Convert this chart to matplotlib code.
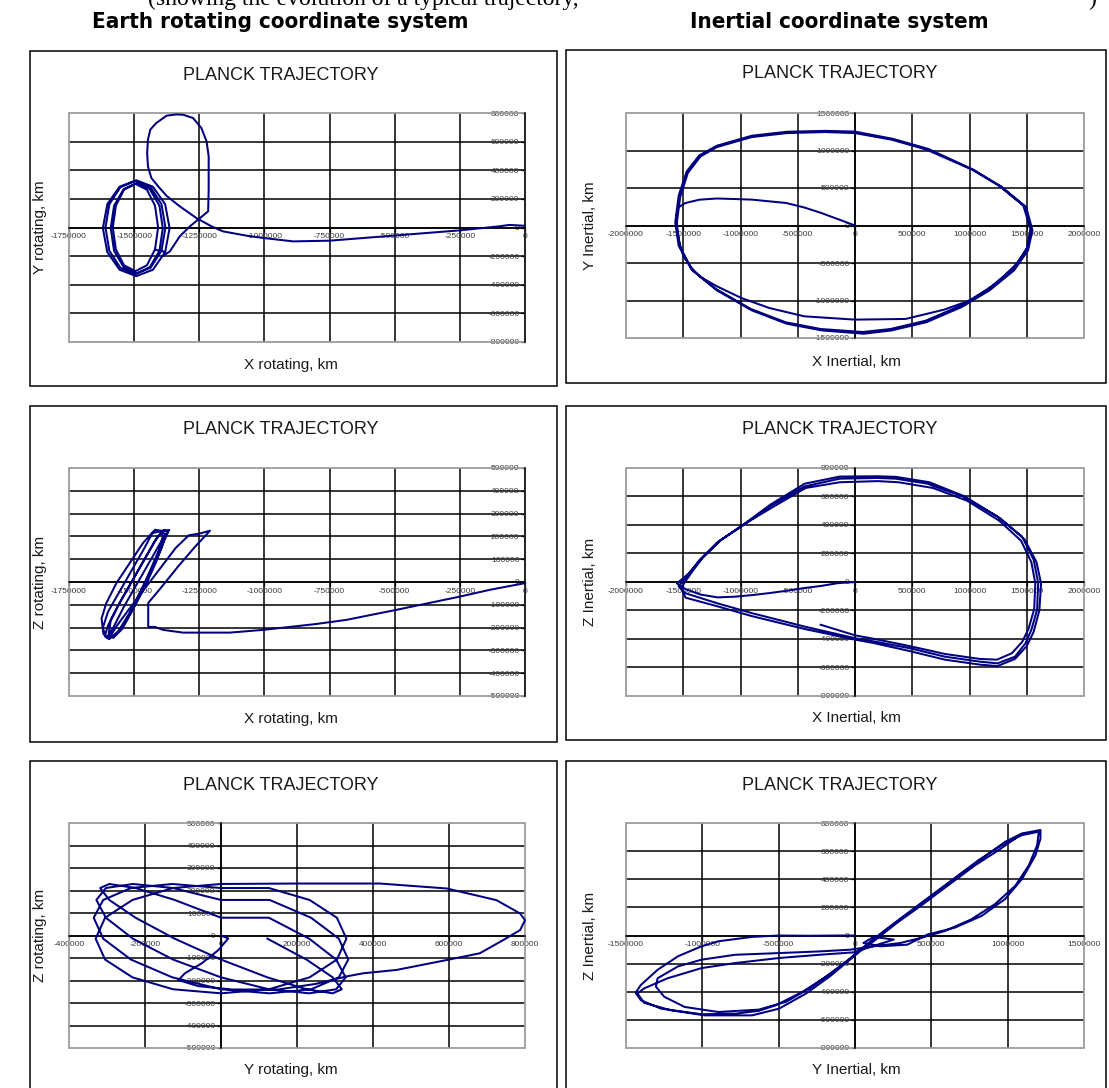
import numpy as np
import matplotlib
matplotlib.use("Agg")
import matplotlib.pyplot as plt
from matplotlib.patches import Rectangle
from matplotlib.ticker import MultipleLocator, FuncFormatter

plt.rcParams["font.family"] = ["Liberation Sans", "DejaVu Sans"]

W, H = 1109, 1088
NAVY = "#000080"

# ---- trajectory samples, thousands of km ----

# rotating frame, X vs Y
rot_xy_x = [
    0, -60, -100, -250, -493, -749, -890, -1005, -1069, -1159,
    -1203, -1261, -1325, -1376, -1408, -1434, -1447, -1450, -1447, -1438,
    -1415, -1376, -1340, -1312, -1274, -1242, -1222, -1214, -1214, -1216,
    -1286, -1325, -1363, -1387,
    -1381, -1428, -1492, -1556, -1603, -1620, -1603, -1556, -1492, -1428, -1381, -1364, -1381,
    -1395, -1437, -1495, -1553, -1595, -1610, -1595, -1553, -1495, -1437, -1395, -1380, -1395,
    -1403, -1440, -1490, -1540, -1577, -1590, -1577, -1540, -1490, -1440, -1403, -1390, -1403,
    -1420, -1451, -1495, -1539, -1570, -1582, -1570, -1539, -1495, -1451, -1420, -1408, -1420,
]
rot_xy_y = [
    12, 18, 8, -20, -55, -92, -97, -73, -57, -27,
    8, 66, 148, 222, 288, 346, 427, 520, 614, 684,
    730, 781, 790, 788, 765, 695, 602, 497, 264, 113,
    8, -62, -167, -196,
    -172, -295, -340, -295, -172, -5, 163, 285, 330, 285, 163, -5, -172,
    -163, -281, -325, -281, -163, 0, 163, 281, 325, 281, 163, 0, -163,
    -163, -278, -320, -278, -163, -5, 153, 268, 310, 268, 153, -5, -163,
    -153, -264, -305, -264, -153, 0, 153, 264, 305, 264, 153, 0, -153,
]

# inertial frame, X vs Y
inert_xy_x = [
    0, -137, -300, -443, -600, -748, -900, -1054, -1206, -1359, -1480, -1545, -1560, -1560, -1540, -1496, -1430,
    -1359, -1206, -992, -748, -443, 0, 442, 778, 1023, 1236, 1419, 1511, 1541, 1480, 1267, 1023, 626, 320, 0,
    -260, -596, -901, -1206, -1350, -1460, -1527, -1557, -1527, -1420, -1206, -901, -596, -290, 76, 320, 626, 931,
    1175, 1389, 1511, 1550, 1495, 1280, 1035, 640, 330, 0,
    -260, -596, -901, -1206, -1360, -1470, -1540, -1570, -1540, -1430, -1216, -911, -606, -300, 66, 310, 616, 921,
    1165, 1379, 1500, 1532, 1470, 1260,
]
inert_xy_y = [
    0, 78, 170, 240, 300, 322, 345, 353, 360, 344, 300, 240, 120, 0, -200, -420, -560,
    -678, -811, -967, -1100, -1211, -1255, -1246, -1122, -989, -767, -500, -278, -56, 256, 522, 744, 1011, 1144, 1232,
    1246, 1232, 1179, 1046, 920, 700, 379, 23, -288, -599, -865, -1132, -1310, -1399, -1443, -1399, -1288, -1088,
    -865, -599, -332, -66, 246, 517, 744, 1021, 1156, 1252,
    1262, 1250, 1197, 1064, 935, 720, 399, 40, -270, -580, -845, -1112, -1290, -1380, -1420, -1380, -1270, -1070,
    -845, -580, -312, -46, 266, 530,
]

# rotating frame, X vs Z
rot_xz_x = [
    0, -134, -250, -493, -685, -800, -1005, -1133, -1312, -1389,
    -1420, -1446, -1446, -1394, -1332, -1266, -1225, -1209, -1250, -1290,
    -1340, -1400, -1460, -1520, -1565, -1590, -1605,
    -1580, -1540, -1490, -1440, -1400, -1375, -1365, -1390, -1420, -1465, -1515, -1565, -1600, -1612, -1595,
    -1560, -1520, -1475, -1430, -1395, -1380, -1395, -1420, -1466, -1517, -1568, -1607, -1625, -1618, -1600,
    -1570, -1530, -1490, -1450, -1415, -1385, -1370, -1385, -1410, -1450, -1500, -1550, -1590, -1598, -1580,
    -1545, -1505, -1470, -1435, -1405, -1390, -1400, -1430, -1460, -1505, -1555, -1600, -1620, -1610,
]
rot_xz_z = [
    -5, -34, -64, -122, -166, -184, -210, -222, -222, -210,
    -197, -197, -92, -21, 67, 155, 205, 225, 212, 205,
    150, 60, -30, -120, -190, -235, -245,
    -200, -110, -10, 90, 170, 215, 228, 225, 180, 90, -10, -110, -190, -235, -250,
    -215, -140, -40, 60, 150, 205, 225, 229, 171, 83, -5, -93, -160, -228, -248,
    -230, -170, -90, 0, 90, 180, 218, 228, 200, 120, 20, -80, -170, -230, -245,
    -205, -120, -30, 60, 140, 200, 222, 215, 150, 60, -40, -130, -200, -240,
]

# inertial frame, X vs Z
inert_xz_x = [
    0, -150, -300, -440, -600, -750, -900, -1050, -1200, -1350, -1480, -1556,
    -1450, -1357, -1200, -990, -745, -439, -133, 200, 356, 632,
    938, 1244, 1458, 1560, 1600, 1590, 1540, 1489, 1397, 1244,
    1091, 785, 479, 173, 4, -439, -898, -1204, -1480, -1541,
    -1440, -1340, -1180, -980, -735, -439, -133, 200, 356, 650,
    960, 1270, 1480, 1585, 1625, 1610, 1560, 1500, 1397, 1244,
    1091, 785, 479, 173, 4, -439, -898, -1204, -1480, -1520,
    -1420, -1330, -1170, -970, -720, -430, -133, 200, 380, 680,
    980, 1260, 1450, 1540, 1575, 1565, 1515, 1460, 1370, 1240,
    1091, 785, 479, 173, 4, -300,
]
inert_xz_z = [
    0, -8, -28, -42, -62, -78, -92, -103, -108, -88, -50, -10,
    60, 155, 280, 390, 531, 671, 725, 730, 725, 690,
    601, 460, 320, 157, -7, -195, -336, -430, -524, -571,
    -559, -524, -465, -418, -395, -313, -219, -149, -79, -30,
    70, 165, 290, 400, 545, 690, 740, 742, 738, 700,
    600, 445, 300, 140, -10, -200, -350, -450, -540, -590,
    -580, -545, -485, -430, -405, -330, -240, -170, -110, -40,
    75, 170, 295, 405, 525, 660, 700, 708, 700, 660,
    570, 430, 290, 140, -10, -190, -330, -420, -500, -545,
    -540, -505, -450, -400, -375, -300,
]

# rotating frame, Y vs Z
rot_yz_y = [
    0, 19, -7, -51, -95, -112, -60, 30, 150, 250, 330,
    374, 462, 594, 681, 743, 787, 800, 787, 725, 594, 418, 200,
    0, -126, -233, -305, -330, -305, -233, -126, 0, 126, 233, 305, 330, 305, 233, 126,
    0, -128, -237, -310, -335, -310, -237, -128, 0, 128, 237, 310, 335, 310, 237, 128,
    0, -126, -232, -303, -328, -303, -232, -126, 0, 126, 232, 303, 328, 303, 232, 126,
    0, -122, -225, -294, -318, -294, -225, -122, 0, 122, 225, 294, 318, 294, 225, 122,
]
rot_yz_z = [
    0, -13, -65, -124, -168, -198, -225, -240, -240, -215, -182,
    -168, -153, -109, -79, -20, 24, 68, 98, 157, 209, 231, 231,
    229, 211, 158, 79, -14, -107, -186, -239, -257, -239, -186, -107, -14, 79, 158, 211,
    211, 229, 211, 158, 79, -14, -107, -186, -239, -257, -239, -186, -107, -14, 79, 158,
    158, 211, 229, 211, 158, 79, -14, -107, -186, -239, -257, -239, -186, -107, -14, 79,
    79, 158, 211, 229, 211, 158, 79, -14, -107, -186, -239, -257, -239, -186, -107, -14,
]

# inertial frame, Y vs Z
inert_yz_y = [
    0, -100, -300, -497, -674, -895, -1006, -1160, -1293, -1403,
    -1437, -1403, -1271, -1006, -785, -630, -519, -343, -188, -55,
    33, 122, 210, 343, 475, 652, 829, 983, 1094, 1215,
    1215, 1182, 1094, 983, 829, 652, 475, 343, 166, 55, 122, 254,
    -11, -232, -497, -785, -1006, -1227, -1381, -1425, -1381, -1204,
    -983, -674, -497, -320, -166, -33, 77, 188, 320, 453,
    630, 807, 961, 1094, 1204, 1193, 1138, 1050, 917, 762,
    586, 431, 298, 122, -33, -232, -497, -785, -1006, -1160,
    -1293, -1304, -1249, -1116, -895, -630, -453, -298, -144, -11,
    122, 276, 431, 608, 785, 939, 1050,
]
inert_yz_z = [
    0, 0, -2, 0, -10, -41, -77, -148, -244, -352,
    -407, -460, -520, -560, -556, -536, -496, -400, -292, -184,
    -101, -29, 43, 151, 259, 402, 546, 666, 726, 750,
    690, 570, 402, 259, 139, 55, 7, -65, -77, -53, -10, -29,
    -120, -137, -160, -196, -232, -304, -376, -412, -479, -532,
    -568, -568, -520, -412, -292, -172, -65, 31, 139, 247,
    390, 534, 642, 714, 738, 642, 498, 354, 223, 115,
    31, -17, -53, -77, -101, -113, -125, -137, -172, -220,
    -304, -364, -436, -508, -544, -527, -472, -376, -256, -148,
    -41, 91, 211, 355, 498, 606, 690,
]


def fig_rect(x0, y0, x1, y1):
    # pixel box (top-left origin) -> figure fraction
    return [x0 / W, 1 - y1 / H, (x1 - x0) / W, (y1 - y0) / H]


def fig_xy(x, y):
    return x / W, 1 - y / H


fig = plt.figure(figsize=(W / 100, H / 100), dpi=100)
fig.patch.set_facecolor("white")


def panel(box, plot, xs, ys, xlim, ylim, xstep, ystep,
          xlabel, ylabel, title_x, xlabel_pos, ylabel_x):
    bx0, by0, bx1, by1 = box
    fig.add_artist(Rectangle(fig_xy(bx0, by1), (bx1 - bx0) / W, (by1 - by0) / H,
                             transform=fig.transFigure, fill=False,
                             edgecolor="black", linewidth=1.1))
    ax = fig.add_axes(fig_rect(*plot))
    ax.plot(np.array(xs) * 1000, np.array(ys) * 1000, color=NAVY,
            linewidth=1.45, zorder=4, clip_on=False)
    ax.set_xlim(*xlim)
    ax.set_ylim(*ylim)

    # inner grid only, the frame is grey
    for v in np.arange(xlim[0] + xstep, xlim[1], xstep):
        ax.axvline(v, color="black", linewidth=1.1, zorder=1)
    for v in np.arange(ylim[0] + ystep, ylim[1], ystep):
        ax.axhline(v, color="black", linewidth=1.1, zorder=1)
    ax.add_patch(Rectangle((0, 0), 1, 1, transform=ax.transAxes, fill=False,
                           edgecolor="#9c9c9c", linewidth=1.3, zorder=2,
                           clip_on=False))

    for s in ("top", "right"):
        ax.spines[s].set_visible(False)
    ax.spines["left"].set_position(("data", 0))
    ax.spines["bottom"].set_position(("data", 0))
    for s in ("left", "bottom"):
        ax.spines[s].set_color("black")
        ax.spines[s].set_linewidth(1.1)
        ax.spines[s].set_zorder(3)

    ax.xaxis.set_major_locator(MultipleLocator(xstep))
    ax.yaxis.set_major_locator(MultipleLocator(ystep))
    fmt = FuncFormatter(lambda v, p: "%d" % int(round(v)))
    ax.xaxis.set_major_formatter(fmt)
    ax.yaxis.set_major_formatter(fmt)
    ax.tick_params(direction="out", length=3, width=0.9, pad=1,
                   labelsize=6, labelcolor="#3a3a3a", color="black")

    fig.text(*fig_xy(title_x, by0 + 24), "PLANCK TRAJECTORY",
             ha="center", va="center", fontsize=13, color="#1a1a1a")
    fig.text(*fig_xy(*xlabel_pos), xlabel, ha="center", va="center",
             fontsize=11, color="#1a1a1a")
    fig.text(*fig_xy(ylabel_x, (plot[1] + plot[3]) / 2), ylabel,
             ha="center", va="center", rotation=90, fontsize=11,
             color="#1a1a1a")
    return ax


panel((30, 51, 557, 386), (69, 113, 525, 342), rot_xy_x, rot_xy_y,
      (-1750000, 0), (-800000, 800000), 250000, 200000,
      "X rotating, km", "Y rotating, km", 281, (291, 365), 40)
panel((566, 50, 1106, 383), (626, 113, 1084, 338), inert_xy_x, inert_xy_y,
      (-2000000, 2000000), (-1500000, 1500000), 500000, 500000,
      "X Inertial, km", "Y Inertial, km", 840, (856, 362), 590)
panel((30, 406, 557, 742), (69, 468, 525, 696), rot_xz_x, rot_xz_z,
      (-1750000, 0), (-500000, 500000), 250000, 100000,
      "X rotating, km", "Z rotating, km", 281, (291, 719), 40)
panel((566, 406, 1106, 740), (626, 468, 1084, 696), inert_xz_x, inert_xz_z,
      (-2000000, 2000000), (-800000, 800000), 500000, 200000,
      "X Inertial, km", "Z Inertial, km", 840, (856, 718), 590)
panel((30, 761, 557, 1100), (69, 823, 525, 1048), rot_yz_y, rot_yz_z,
      (-400000, 800000), (-500000, 500000), 200000, 100000,
      "Y rotating, km", "Z rotating, km", 281, (291, 1070), 40)
panel((566, 761, 1106, 1100), (626, 823, 1084, 1048), inert_yz_y, inert_yz_z,
      (-1500000, 1500000), (-800000, 800000), 500000, 200000,
      "Y Inertial, km", "Z Inertial, km", 840, (856, 1070), 590)

# column headings and the clipped line of body text above them
fig.text(*fig_xy(92, 22), "Earth rotating coordinate system", ha="left",
         va="center", fontsize=16, fontweight="bold", fontstretch="condensed",
         family=["DejaVu Sans"], color="black")
fig.text(*fig_xy(690, 22), "Inertial coordinate system", ha="left",
         va="center", fontsize=16, fontweight="bold", fontstretch="condensed",
         family=["DejaVu Sans"], color="black")
fig.text(*fig_xy(148, 5), "(showing the evolution of a typical trajectory,",
         ha="left", va="baseline", fontsize=17, family=["Liberation Serif"],
         color="black")
fig.text(*fig_xy(1088, 5), ")", ha="left", va="baseline", fontsize=17,
         family=["Liberation Serif"], color="black")

fig.savefig("out.png", dpi=100)
